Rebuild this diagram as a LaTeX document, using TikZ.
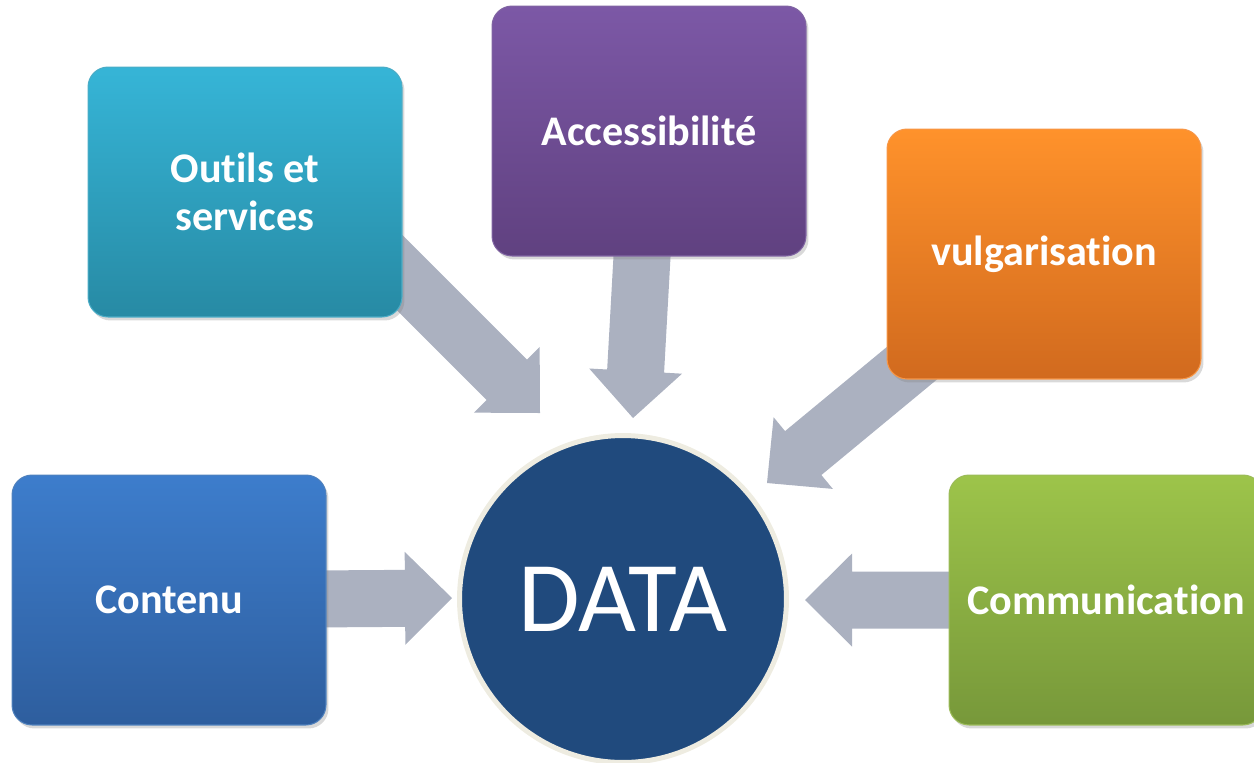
\documentclass[tikz,border=0pt]{standalone}
\usepackage{fontspec}
\setmainfont{Carlito}[Ligatures={NoCommon}]
\usepackage{tikz}
\usetikzlibrary{calc,shadows}

\definecolor{arrowgray}{RGB}{171,177,192}
\definecolor{datablue}{RGB}{32,74,125}
\definecolor{dataring}{RGB}{238,236,225}

\pgfdeclarelayer{background}
\pgfsetlayers{background,main}

% block arrow from #1 to the tip #2
\newcommand{\blockarrow}[2]{%
  \path ($(#2)!0.94cm!(#1)$) coordinate (hb);
  \fill[arrowgray] ($(#1)!0.57cm!90:(#2)$) -- ($(hb)!0.57cm!-90:(#1)$) -- ($(hb)!0.93cm!-90:(#1)$)
    -- (#2) -- ($(hb)!0.93cm!90:(#1)$) -- ($(hb)!0.57cm!90:(#1)$) -- ($(#1)!0.57cm!-90:(#2)$) -- cycle;}

\tikzset{
  box/.style={rounded corners=0.4cm, minimum width=6.28cm, minimum height=5cm,
    text=white, align=center, line width=0.6pt,
    font=\fontsize{24}{27}\selectfont\bfseries,
    drop shadow={shadow xshift=0.05cm, shadow yshift=-0.07cm, opacity=0.3}},
  datacircle/.style={circle, inner sep=0pt, minimum size=6.54cm, fill=datablue,
    draw=dataring, line width=0.1cm, text=white, font=\fontsize{57}{62}\selectfont}
}

\begin{document}
\begin{tikzpicture}[x=0.02cm, y=0.02cm]
  \useasboundingbox (0,0) rectangle (1254,-762);

  \node[box, top color={rgb,255:red,54;green,181;blue,215}, bottom color={rgb,255:red,39;green,138;blue,164},
    draw={rgb,255:red,75;green,172;blue,198}] (outils) at (245,-192) {Out\kern0pt ils et\\services};
  \node[box, top color={rgb,255:red,124;green,88;blue,166}, bottom color={rgb,255:red,96;green,65;blue,128},
    draw={rgb,255:red,128;green,100;blue,162}] (acces) at (649,-131) {Accessibilité};
  \node[box, top color={rgb,255:red,255;green,146;blue,43}, bottom color={rgb,255:red,209;green,106;blue,30},
    draw={rgb,255:red,247;green,150;blue,70}] (vulg) at (1044,-254) {vulgarisat\kern0pt ion};
  \node[box, top color={rgb,255:red,61;green,125;blue,204}, bottom color={rgb,255:red,46;green,94;blue,158},
    draw={rgb,255:red,79;green,129;blue,189}] (contenu) at (169,-600) {Contenu};
  \node[box, top color={rgb,255:red,157;green,196;blue,74}, bottom color={rgb,255:red,119;green,152;blue,58},
    draw={rgb,255:red,155;green,187;blue,89}] (comm) at (1106,-600) {Communicat\kern0pt ion};

  \node[datacircle] (data) at (623,-599) {DATA};

  % arrow ends
  \coordinate (outils-out) at (380,-253);
  \coordinate (outils-tip) at (540,-413);
  \coordinate (acces-tip) at (633,-418);
  \coordinate (vulg-tip) at (767,-483);
  \coordinate (contenu-tip) at (452,-598);
  \coordinate (comm-tip) at (805,-600);

  \begin{pgfonlayer}{background}
    \blockarrow{outils-out}{outils-tip}
    \blockarrow{acces}{acces-tip}
    \blockarrow{vulg}{vulg-tip}
    \blockarrow{contenu}{contenu-tip}
    \blockarrow{comm}{comm-tip}
  \end{pgfonlayer}
\end{tikzpicture}
\end{document}
